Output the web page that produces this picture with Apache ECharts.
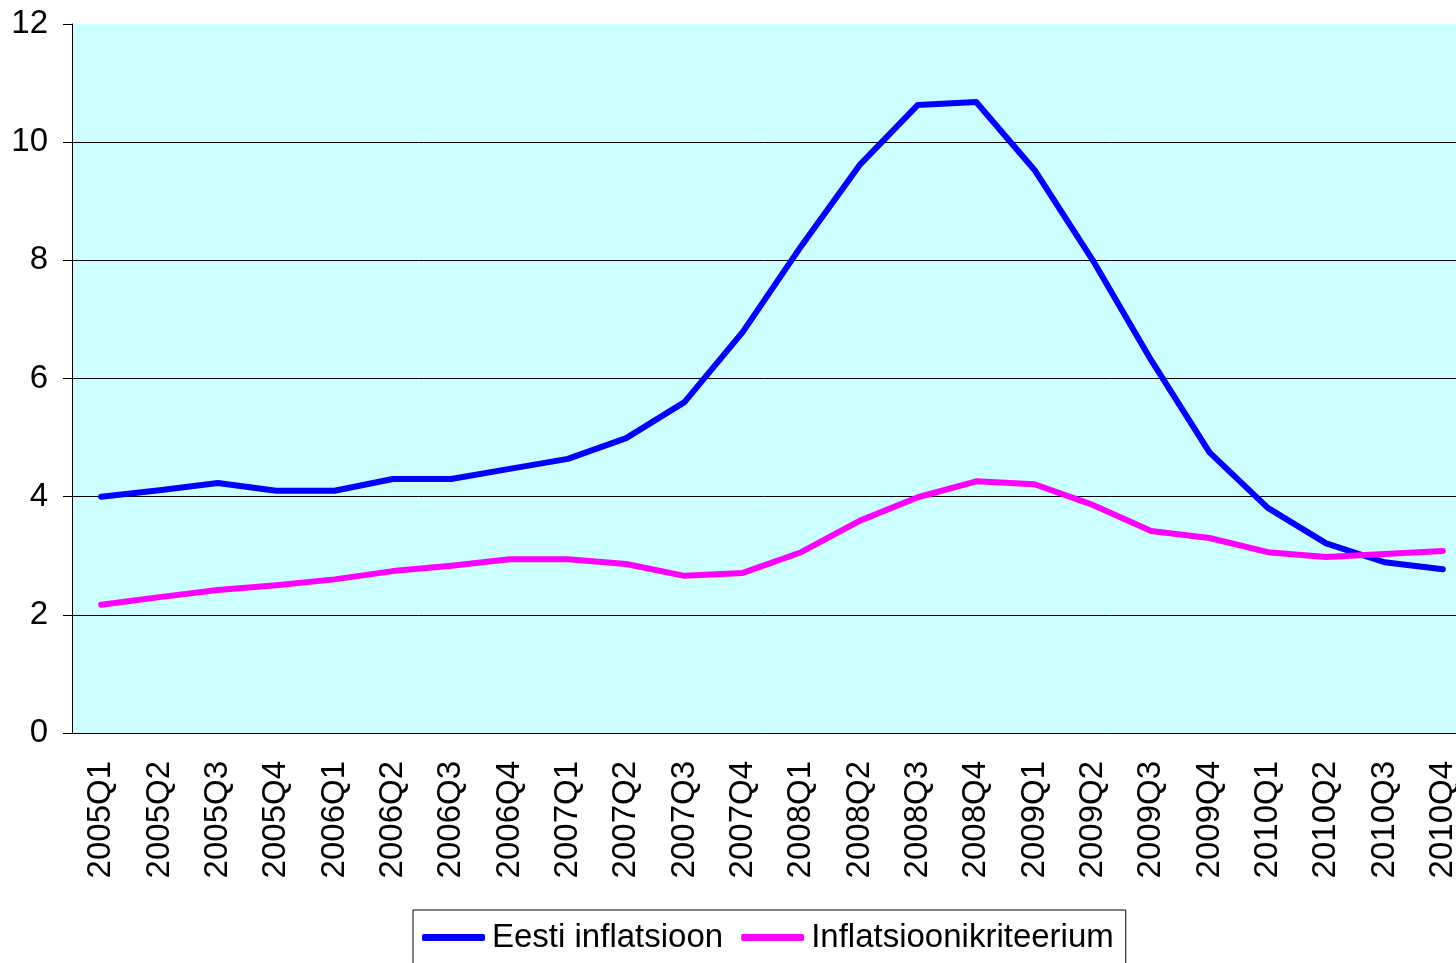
<!DOCTYPE html>
<html>
<head>
<meta charset="utf-8">
<script src="https://cdn.jsdelivr.net/npm/echarts@6/dist/echarts.min.js"></script>
<style>
  html, body { margin: 0; padding: 0; background: #fff; }
  #chart { width: 1456px; height: 963px; }
</style>
</head>
<body>
<div id="chart"></div>
<script>
// kvartalid
var quarters = ['2005Q1', '2005Q2', '2005Q3', '2005Q4', '2006Q1', '2006Q2', '2006Q3', '2006Q4',
    '2007Q1', '2007Q2', '2007Q3', '2007Q4', '2008Q1', '2008Q2', '2008Q3', '2008Q4',
    '2009Q1', '2009Q2', '2009Q3', '2009Q4', '2010Q1', '2010Q2', '2010Q3', '2010Q4'];

// Eesti inflatsioon
var eestiInflatsioon = [4.0, 4.11, 4.23, 4.1, 4.1, 4.3, 4.3, 4.47,
    4.64, 4.99, 5.6, 6.79, 8.24, 9.61, 10.63, 10.68,
    9.53, 8.0, 6.31, 4.75, 3.81, 3.21, 2.89, 2.77];

// Inflatsioonikriteerium
var kriteerium = [2.17, 2.3, 2.42, 2.5, 2.6, 2.74, 2.83, 2.94,
    2.94, 2.86, 2.66, 2.71, 3.06, 3.59, 3.99, 4.26,
    4.21, 3.86, 3.42, 3.3, 3.06, 2.98, 3.03, 3.08];

var seriesNames = ['Eesti inflatsioon', 'Inflatsioonikriteerium'];

var font = 'Liberation Sans, Arial, sans-serif';

var myChart = echarts.init(document.getElementById('chart'));

var option = {
    animation: false,
    textStyle: { fontFamily: font },
    grid: {
        left: 72,
        width: 1400,
        top: 24,
        bottom: 230,
        outerBoundsMode: 'none',
        containLabel: false,
        show: true,
        backgroundColor: '#CCFFFF',
        borderWidth: 0
    },
    legend: {
        data: seriesNames,
        left: 413,
        top: 910,
        padding: [11, 12, 20, 9],
        backgroundColor: '#fff',
        borderColor: '#000',
        borderWidth: 1,
        borderRadius: 0,
        itemWidth: 63,
        itemHeight: 7,
        itemGap: 18,
        icon: 'roundRect',
        textStyle: { fontSize: 33, color: '#000', fontFamily: font, padding: [0, 0, 0, 2] }
    },
    xAxis: {
        type: 'category',
        data: quarters,
        boundaryGap: true,
        axisLine: { lineStyle: { color: '#000', width: 1 } },
        axisTick: { length: 10, lineStyle: { color: '#000' } },
        axisLabel: {
            rotate: 90,
            interval: 0,
            fontSize: 33,
            color: '#000',
            margin: 28,
            fontFamily: font
        }
    },
    yAxis: {
        type: 'value',
        min: 0,
        max: 12,
        interval: 2,
        axisLine: { show: true, lineStyle: { color: '#000', width: 1 } },
        axisTick: { show: true, inside: false, length: 9, lineStyle: { color: '#000' } },
        axisLabel: { fontSize: 33, color: '#000', margin: 24, fontFamily: font },
        splitLine: {
            show: true,
            lineStyle: { color: '#000', width: 1 },
            showMaxLine: false
        }
    },
    series: [
        {
            name: seriesNames[0],
            type: 'line',
            data: eestiInflatsioon,
            symbol: 'none',
            color: '#0000FF',
            lineStyle: { color: '#0000FF', width: 6, cap: 'round', join: 'round' }
        },
        {
            name: seriesNames[1],
            type: 'line',
            data: kriteerium,
            symbol: 'none',
            color: '#FF00FF',
            lineStyle: { color: '#FF00FF', width: 6, cap: 'round', join: 'round' }
        }
    ]
};

myChart.setOption(option);
</script>
</body>
</html>
